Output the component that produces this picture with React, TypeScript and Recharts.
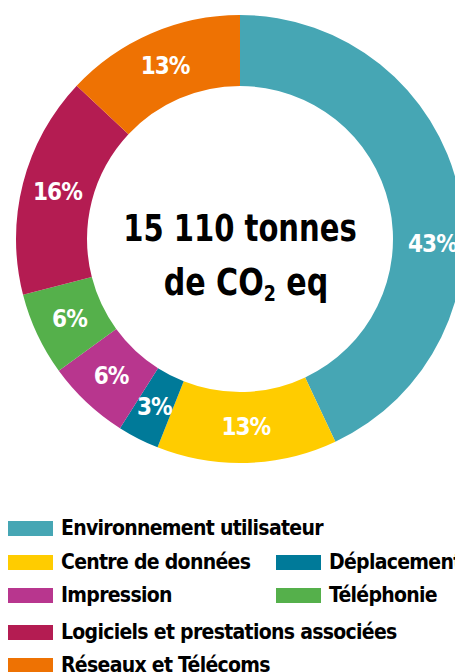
import { PieChart, Pie, Cell } from "recharts";

const categories = [
  "Environnement utilisateur",
  "Centre de données",
  "Déplacement",
  "Impression",
  "Téléphonie",
  "Logiciels et prestations associées",
  "Réseaux et Télécoms",
];
const shares = [43, 13, 3, 6, 6, 16, 13];
const colors = ["#46A6B4", "#FFCC00", "#007A99", "#B8368E", "#55B04B", "#B41C52", "#EE7203"];
const totalLine1 = "15 110 tonnes";

// legend layout: [category index, column, row]
const legendSlots = [
  [0, 0, 0],
  [1, 0, 1],
  [2, 1, 1],
  [3, 0, 2],
  [4, 1, 2],
  [5, 0, 3],
  [6, 0, 4],
];
const rowTops = [528, 562, 595, 632, 665];
const colLefts = [8, 276];

const FONT = "'DejaVu Sans Condensed', 'DejaVu Sans', sans-serif";
const RAD = Math.PI / 180;
const CX = 240;
const CY = 239;

const data = categories.map((name, i) => ({ name, value: shares[i] }));

function renderLabel(p: any) {
  // the big slice's label sits lower, near the right edge, as in the original
  const angle = p.index === 0 ? p.midAngle - 14 : p.midAngle;
  const r = (p.innerRadius + p.outerRadius) / 2 + (p.index === 0 ? 4 : 0);
  const x = p.cx + r * Math.cos(-angle * RAD);
  const y = p.cy + r * Math.sin(-angle * RAD);
  return (
    <text x={x} y={y} fill="#fff" textAnchor="middle" dominantBaseline="central"
      fontFamily={FONT} fontWeight="bold" fontSize={24} letterSpacing={-1}>
      {`${p.value}%`}
    </text>
  );
}

export default function App() {
  return (
    <div style={{ position: "fixed", left: 0, top: 0, width: 455, height: 672, background: "#fff", overflow: "hidden" }}>
      <PieChart width={455} height={480} margin={{ top: 0, right: 0, bottom: 0, left: 0 }}>
        <Pie data={data} dataKey="value" nameKey="name" cx={CX} cy={CY}
          innerRadius={153} outerRadius={224} startAngle={90} endAngle={-270}
          stroke="none" label={renderLabel} labelLine={false} isAnimationActive={false}>
          {data.map((_, i) => <Cell key={i} fill={colors[i]} />)}
        </Pie>
      </PieChart>
      <svg width={455} height={480} style={{ position: "absolute", left: 0, top: 0, pointerEvents: "none" }}>
        <g fontFamily={FONT} fontWeight="bold" fill="#000" textAnchor="middle">
          <text x={0} y={CY + 2} fontSize={38} transform={`translate(${CX} 0) scale(0.85 1)`}>{totalLine1}</text>
          <text x={0} y={CY + 56} fontSize={38} transform={`translate(${CX + 6} 0) scale(0.88 1)`}>
            de CO<tspan fontSize={22} dy={6}>2</tspan><tspan dy={-6}> eq</tspan>
          </text>
        </g>
      </svg>
      {legendSlots.map(([idx, col, row]) => (
        <div key={idx} style={{ position: "absolute", left: colLefts[col], top: rowTops[row] - 12, height: 24,
          display: "flex", alignItems: "center", whiteSpace: "nowrap" }}>
          <span style={{ display: "inline-block", width: 45, height: 15, background: colors[idx], marginRight: 8 }} />
          <span style={{ fontFamily: FONT, fontWeight: "bold", fontSize: 21, letterSpacing: -0.7, color: "#000" }}>{categories[idx]}</span>
        </div>
      ))}
    </div>
  );
}
